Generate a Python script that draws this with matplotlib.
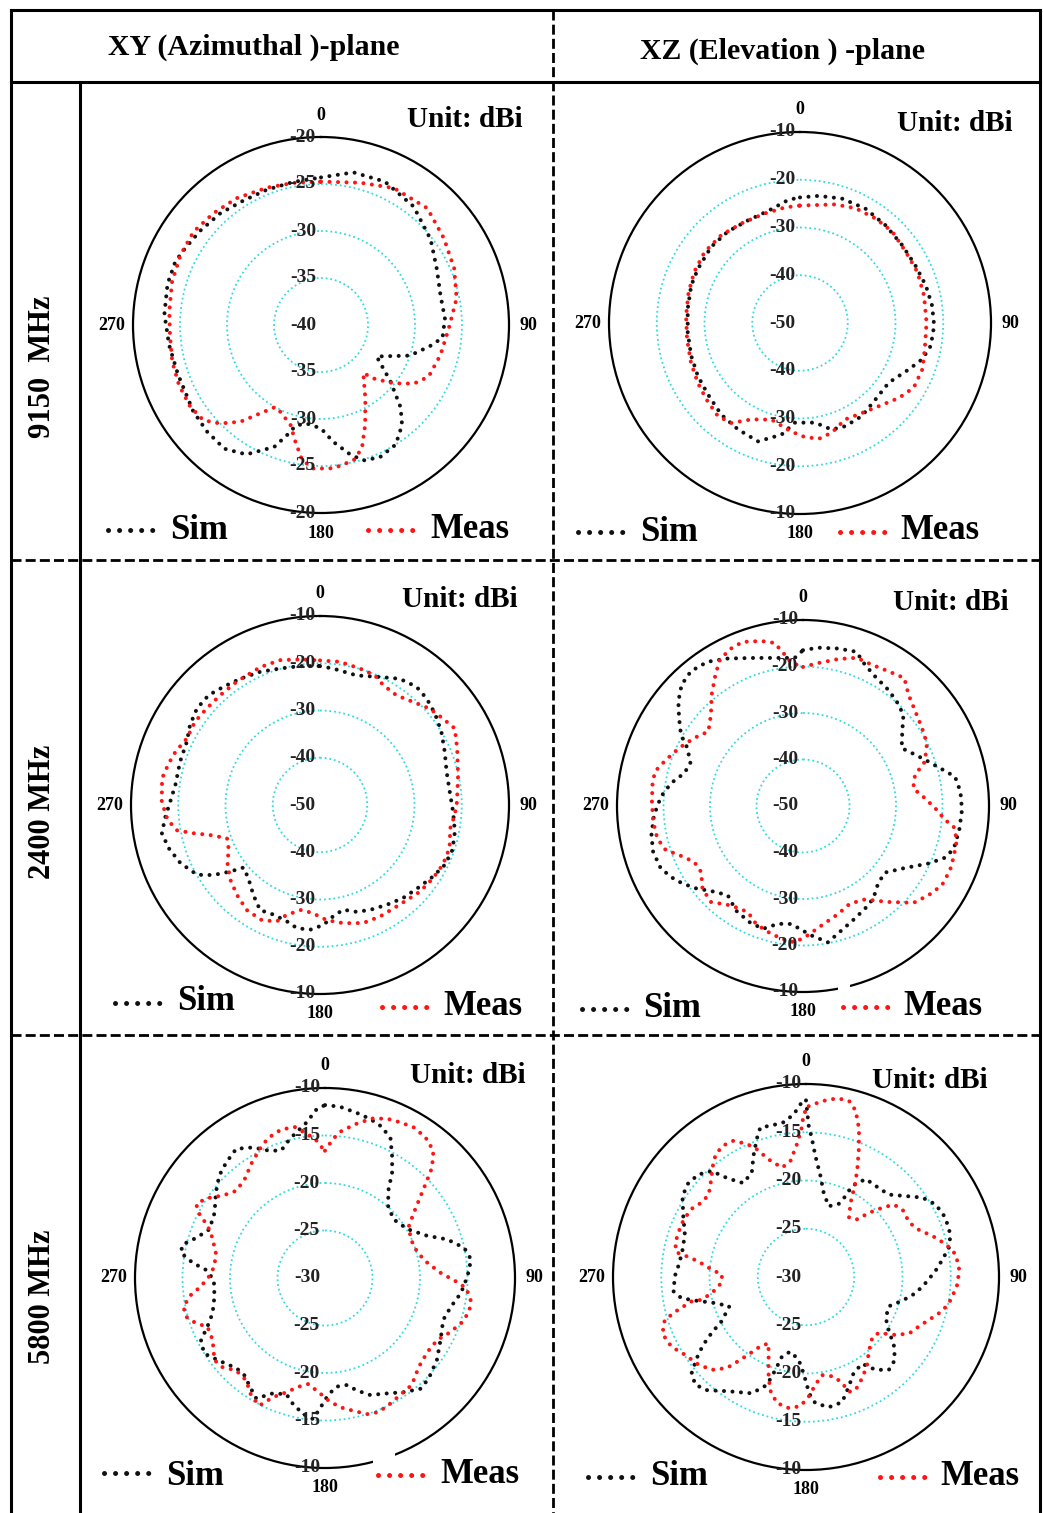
""" Radiation patterns, simulated vs measured (dBi): three bands, two planes.
"""

import numpy as np
import matplotlib
matplotlib.use('Agg')
import matplotlib.pyplot as plt
from matplotlib.lines import Line2D
from matplotlib.patches import Rectangle
from matplotlib.transforms import offset_copy


W, H = 1043, 1513
SIM_COLOR = '#111111'
MEAS_COLOR = '#ff1414'
RING_COLOR = '#30dae4'

plt.rcParams['font.family'] = ['Liberation Serif', 'DejaVu Serif']
plt.rcParams['font.weight'] = 'bold'

# ---- 9150 MHz, XY plane ----
xy_9150_sim_deg = [0, 12, 24, 38, 52, 64, 76, 87, 96, 101,
                   109, 119.5, 129, 136, 141, 148, 156, 162.5, 167, 174,
                   180, 188, 194, 197, 201, 210, 218, 227, 236, 251,
                   262.5, 274, 285, 293.5, 299.5, 308, 318, 328, 338, 349]
xy_9150_sim_db = [-24.3, -23.4, -23.3, -24.0, -25.2, -26.3, -26.9, -26.8, -27.0, -28.2,
                  -30.0, -33.2, -30.5, -27.8, -26.3, -25.0, -24.6, -24.9, -25.8, -27.5,
                  -29.0, -29.4, -29.0, -27.8, -26.1, -24.1, -23.3, -23.4, -23.6, -23.9,
                  -23.7, -23.3, -23.1, -23.1, -23.4, -23.7, -24.0, -24.4, -24.5, -24.5]
xy_9150_meas_deg = [0, 15.4, 28, 42.3, 54.8, 66.9, 78.9, 91.5, 104.1, 115.6,
                    122.2, 128.8, 135.4, 138.6, 148.8, 156.1, 161.6, 166.4, 175, 182.9,
                    188, 192.4, 197, 205.1, 209.2, 214.5, 219.8, 225.7, 231, 238,
                    247.1, 256.2, 266.2, 275, 286.2, 296.5, 306.2, 316.1, 326.4, 338.5,
                    349.1]
xy_9150_meas_db = [-24.75, -24.3, -23.5, -23.2, -24.0, -24.6, -25.3, -26.4, -26.9, -27.3,
                   -28.3, -30.1, -32.0, -33.2, -30.9, -28.4, -26.2, -25.2, -24.7, -24.7,
                   -25.5, -27.3, -28.9, -29.8, -30.0, -28.6, -26.6, -25.0, -23.9, -23.6,
                   -23.6, -23.7, -23.9, -23.8, -23.5, -23.3, -23.2, -23.5, -23.8, -24.3,
                   -24.6]

# ---- 9150 MHz, XZ plane ----
xz_9150_sim_deg = [0, 8.3, 18.6, 29.7, 41.1, 52.7, 63.5, 73.4, 82.5, 91.1,
                   99.9, 106.5, 113, 123.9, 135.4, 146.4, 156.3, 163.4, 171.4, 182.9,
                   189.4, 199.5, 210.2, 220.7, 232.2, 242.6, 253.2, 265.2, 277.1, 289,
                   298, 310.6, 321.7, 333.2, 344.1, 354.6]
xz_9150_sim_db = [-23.7, -23.1, -22.5, -22.4, -22.8, -23.1, -23.0, -22.5, -22.1, -21.9,
                  -22.2, -23.3, -25.2, -27.6, -27.5, -26.6, -26.4, -26.7, -28.9, -29.1,
                  -26.3, -23.7, -24.2, -24.7, -25.6, -25.9, -26.2, -26.4, -26.3, -25.9,
                  -25.8, -25.5, -25.6, -25.9, -25.6, -24.1]
xz_9150_meas_deg = [0, 16.5, 25.8, 35.8, 45.3, 56, 66.5, 77.5, 89.7, 101.8,
                    110.7, 119.6, 127.1, 136.5, 145.4, 154.9, 163.8, 171, 179.2, 186.3,
                    196.4, 206.7, 214.5, 221.4, 230.8, 239.7, 250, 261.9, 273.7, 285.4,
                    295.8, 306.6, 318.1, 329.5, 342.2, 352.5]
xz_9150_meas_db = [-25.4, -24.1, -23.3, -23.0, -22.8, -23.3, -23.2, -23.4, -23.5, -23.3,
                   -22.6, -22.6, -24.0, -26.0, -27.1, -27.7, -26.1, -25.4, -26.3, -27.5,
                   -28.9, -27.4, -24.6, -24.0, -24.7, -25.2, -25.7, -26.1, -26.1, -25.8,
                   -25.4, -25.1, -25.3, -25.8, -25.9, -25.6]

# ---- 2400 MHz, XY plane ----
xy_2400_sim_deg = [0, 5.6, 15.8, 25, 32.3, 39.2, 45, 51.4, 58.9, 66.9,
                   75.3, 84.1, 92.9, 101.2, 108.7, 115.6, 122.3, 129.2, 138.2, 146.3,
                   154.5, 161.1, 167.5, 173.2, 178.4, 184.6, 190.7, 195.9, 203, 209.7,
                   216.5, 224.3, 230.7, 233.5, 236.7, 240.4, 247.4, 254.1, 259.9, 265.7,
                   271.3, 277.9, 287.2, 295.4, 301.6, 308.1, 314.6, 320.8, 327.7, 335.8,
                   343.7, 351.8]
xy_2400_sim_db = [-20.6, -21.0, -21.5, -20.1, -18.4, -17.7, -18.1, -18.9, -20.0, -21.3,
                  -22.3, -22.4, -21.8, -20.9, -20.4, -20.7, -21.7, -22.7, -23.6, -24.6,
                  -25.4, -26.1, -27.3, -26.3, -24.6, -23.5, -23.5, -24.4, -24.8, -24.4,
                  -26.3, -28.3, -29.1, -26.3, -23.0, -20.1, -18.0, -16.7, -16.0, -17.2,
                  -18.3, -19.1, -19.0, -18.8, -17.7, -16.9, -16.9, -17.7, -18.4, -19.1,
                  -19.9, -20.3]
xy_2400_meas_deg = [0, 7.9, 16.3, 22.9, 27.8, 34.9, 42.1, 48.7, 54.9, 60.4,
                    67.6, 77.8, 88.6, 94.2, 100.1, 108.4, 115.9, 122.9, 130.9, 141.3,
                    151.7, 159.9, 168.8, 176.7, 183.5, 189.9, 196.9, 200.4, 206.9, 214.9,
                    222.8, 230.2, 237.1, 244.7, 250.3, 254.7, 257.4, 259.9, 264.4, 271.2,
                    279.6, 285.4, 290.2, 296.6, 303.7, 310.5, 317.7, 326, 336.6, 344.6,
                    352.2]
xy_2400_meas_db = [-19.4, -19.4, -19.9, -20.2, -21.3, -21.7, -20.6, -19.1, -18.2, -17.2,
                   -18.6, -20.1, -21.0, -21.4, -22.0, -21.1, -21.1, -21.5, -22.0, -23.0,
                   -23.2, -23.4, -24.5, -25.6, -27.0, -27.5, -25.7, -23.7, -22.7, -22.9,
                   -24.1, -25.3, -26.7, -28.6, -29.1, -25.9, -22.6, -19.3, -17.6, -16.5,
                   -16.1, -16.8, -17.4, -18.5, -18.2, -18.5, -18.6, -18.5, -18.2, -18.2,
                   -18.9]

# ---- 2400 MHz, XZ plane ----
xz_2400_sim_deg = [0, 5.4, 12.6, 19.1, 23.6, 29, 36.2, 41.8, 47.7, 53.1,
                   59.6, 64.8, 69.3, 74.6, 79.1, 84.8, 91.4, 98.8, 105.8, 110,
                   114.6, 121.2, 129.1, 135.9, 142.8, 148.9, 156.3, 162.8, 169.6, 176.3,
                   185.7, 192, 198.1, 204.8, 212.7, 220.1, 225.9, 233, 239.7, 246.2,
                   253, 259.1, 266.5, 273.8, 279.8, 285.4, 290.8, 296.6, 300.3, 305.4,
                   310, 315, 320.3, 326.5, 333, 341.9, 350.4, 356.8]
xz_2400_sim_db = [-16.5, -15.8, -15.3, -14.9, -16.8, -18.1, -19.0, -19.8, -20.8, -23.3,
                  -25.4, -23.7, -21.9, -19.4, -16.7, -16.0, -15.8, -16.0, -16.3, -17.5,
                  -20.3, -24.3, -27.3, -26.8, -25.0, -24.2, -23.2, -22.0, -20.2, -22.1,
                  -24.5, -24.1, -22.2, -22.5, -23.3, -24.9, -23.5, -20.7, -18.3, -16.6,
                  -16.3, -16.8, -17.9, -19.4, -21.2, -23.5, -24.1, -22.2, -19.6, -17.3,
                  -15.0, -13.1, -12.3, -12.8, -14.4, -16.5, -17.7, -18.1]
xz_2400_meas_deg = [0, 6, 13.5, 19.9, 25.9, 32.3, 38.4, 43.4, 49.8, 56.7,
                    63.1, 70, 74.5, 80.9, 86.4, 91.7, 95.6, 97.8, 102.5, 108.7,
                    113.6, 119.7, 125.5, 131.2, 138.4, 146.5, 154.4, 161.9, 171.2, 177.8,
                    183.5, 189.3, 195.6, 201.7, 207.5, 215.9, 223.8, 230.5, 237.1, 242.8,
                    248.3, 252.2, 257.4, 264, 271.6, 278, 283.1, 288.6, 295.1, 302,
                    308.2, 314.8, 320.7, 325.9, 330, 334.8, 339.8, 345.8, 350.1, 353.1,
                    355.3]
xz_2400_meas_db = [-20.1, -19.1, -17.5, -16.1, -16.2, -15.7, -14.9, -17.0, -18.4, -19.4,
                   -20.1, -22.1, -25.0, -26.0, -23.7, -21.2, -19.3, -17.3, -16.1, -15.8,
                   -15.5, -15.6, -16.9, -18.4, -22.4, -25.9, -26.7, -25.6, -24.0, -22.2,
                   -20.6, -21.1, -21.9, -22.7, -24.3, -23.6, -21.4, -22.0, -23.9, -23.7,
                   -21.4, -19.0, -17.9, -17.6, -17.5, -17.3, -17.3, -18.9, -20.6, -22.4,
                   -24.1, -22.1, -19.0, -16.3, -14.0, -12.8, -12.4, -13.4, -14.4, -17.2,
                   -19.1]

# ---- 5800 MHz, XY plane ----
xy_5800_sim_deg = [0, 5, 10.9, 15.9, 20.7, 25.2, 28.7, 32.4, 35.6, 41,
                   49.5, 59.4, 67.4, 72.5, 77.8, 82.8, 89.3, 96.3, 102.8, 109.5,
                   118.2, 126.2, 134.1, 139.2, 145.4, 151.7, 158.9, 164.2, 168.4, 173.9,
                   178.4, 181.9, 184.8, 189.1, 194.2, 198.3, 204.2, 209.7, 214.7, 219.6,
                   224.5, 229.2, 234, 238, 243.4, 247.5, 252.6, 260.5, 269.1, 274,
                   276.5, 279.9, 283.2, 287.3, 292.8, 300.6, 308.1, 314.1, 319.5, 325.5,
                   331.1, 336.5, 341.1, 345.8, 353.3, 357.2]
xy_5800_sim_db = [-11.8, -11.9, -12.3, -12.6, -13.0, -13.8, -15.3, -16.8, -18.5, -19.9,
                  -20.5, -19.9, -18.4, -16.5, -15.0, -14.5, -15.0, -15.6, -16.4, -16.8,
                  -16.2, -15.4, -14.8, -14.6, -15.4, -16.2, -16.8, -17.7, -18.5, -18.5,
                  -17.7, -16.4, -15.1, -15.5, -16.3, -17.1, -16.7, -15.4, -16.1, -16.7,
                  -16.7, -16.2, -15.6, -15.0, -15.4, -16.6, -17.6, -18.2, -18.3, -17.4,
                  -16.0, -14.6, -14.6, -15.8, -16.8, -16.5, -15.4, -14.5, -14.0, -13.5,
                  -14.3, -15.4, -15.8, -14.9, -13.5, -12.2]
xy_5800_meas_deg = [0, 3.4, 6.5, 11.7, 16.4, 21.3, 25.8, 30.5, 35.5, 40.4,
                    44.1, 46.4, 49.3, 53.7, 58.2, 65.7, 74.7, 81.6, 87.5, 91.5,
                    94.1, 98.5, 103.1, 108.4, 113.8, 118.9, 125.8, 133.4, 140.9, 146.3,
                    152.5, 158.2, 162.8, 167.9, 173.3, 178.4, 183.4, 189, 193.8, 198.7,
                    203.6, 207.2, 212.2, 217.6, 223.9, 229, 233.4, 241.2, 247.5, 250.7,
                    254.5, 258.6, 262.9, 266.1, 270.8, 276.1, 283, 289.7, 293.9, 296.9,
                    299.7, 303.7, 309, 314.5, 320.9, 327.1, 333.1, 337.8, 343.6, 348.7,
                    352.7, 355.9, 358.1]
xy_5800_meas_db = [-16.6, -15.3, -14.4, -13.4, -12.5, -12.0, -11.8, -11.6, -11.8, -12.4,
                   -13.8, -15.2, -16.7, -18.4, -19.6, -20.1, -19.9, -19.1, -17.8, -16.2,
                   -15.1, -14.5, -14.4, -14.9, -15.7, -16.5, -16.7, -16.4, -15.5, -15.4,
                   -15.1, -14.8, -15.0, -15.7, -16.3, -17.1, -18.0, -18.7, -18.2, -17.3,
                   -16.3, -14.9, -15.4, -16.4, -16.5, -15.7, -15.5, -16.5, -16.6, -15.6,
                   -14.8, -14.8, -15.8, -16.9, -17.8, -18.3, -18.2, -17.4, -16.5, -15.2,
                   -14.4, -14.9, -16.2, -16.9, -16.6, -15.7, -14.8, -14.1, -13.7, -13.8,
                   -14.7, -15.3, -16.1]

# ---- 5800 MHz, XZ plane ----
xz_5800_sim_deg = [0, 1, 2.5, 4.4, 8.1, 11.9, 17.8, 24.1, 26, 26.9,
                   31.4, 38.6, 45.1, 50.9, 55.7, 60.8, 66.9, 73.7, 78.5, 83,
                   87.5, 92.9, 98.3, 103.7, 109.5, 117.3, 123.3, 127.7, 133, 138.3,
                   143.2, 147.1, 153.6, 158.7, 163.9, 170.1, 175.8, 178.4, 181.4, 185.1,
                   191.9, 196.8, 198.3, 199.9, 205, 214.1, 221.3, 225.8, 229.9, 233.4,
                   236.5, 239.5, 242.2, 249.1, 254, 258.1, 260.4, 263.8, 270.3, 276.3,
                   282.5, 289.3, 296.4, 303.2, 308.5, 313.6, 318.3, 321.7, 326.3, 332.6,
                   336.6, 340.4, 343, 347.3, 351.7, 355.7, 358.1]
xz_5800_sim_db = [-11.7, -14.3, -15.7, -17.4, -19.4, -21.1, -22.3, -21.7, -20.7, -19.4,
                  -18.1, -18.1, -17.9, -16.7, -15.4, -14.6, -14.3, -14.4, -14.9, -15.8,
                  -16.6, -17.6, -18.5, -19.7, -20.9, -20.7, -19.7, -18.5, -17.4, -17.1,
                  -18.0, -19.3, -18.9, -17.8, -16.5, -16.3, -16.9, -17.9, -20.0, -21.4,
                  -22.1, -21.4, -19.8, -18.1, -16.7, -15.7, -14.4, -14.0, -14.5, -15.9,
                  -17.2, -18.7, -20.1, -21.5, -20.2, -18.2, -16.9, -16.2, -16.4, -16.8,
                  -16.9, -16.7, -15.8, -14.7, -14.4, -14.6, -15.3, -17.0, -18.3, -17.8,
                  -16.3, -14.8, -13.8, -13.9, -13.8, -13.1, -12.1]
xz_5800_meas_deg = [0.9, 5.2, 9.9, 13.7, 16.6, 19.7, 22.5, 25.4, 28.2, 30.9,
                    35.9, 41.7, 44.4, 47.8, 50.5, 55.2, 62.3, 67.5, 72.1, 76.9,
                    81.5, 87.3, 92.9, 98.9, 103.8, 107.6, 113.4, 118.6, 122.8, 127.6,
                    132.3, 139.9, 145.2, 151, 156.4, 159.5, 161.2, 164.4, 170.7, 175,
                    178.7, 182.5, 187.5, 193, 197.6, 201.3, 205.2, 209.5, 213.4, 216.2,
                    218.5, 221, 225.4, 231.1, 237.2, 242.6, 248.4, 253.1, 255.6, 258,
                    257.7, 260.3, 265.9, 271.6, 274.5, 278.3, 279.9, 280.8, 284.7, 289.8,
                    295.1, 300.8, 305.4, 310.2, 315.3, 319.9, 323.7, 327.8, 331.9, 336,
                    338.9, 342.3, 347.6, 352.3, 356.1, 358.2, 359.2]
xz_5800_meas_db = [-12.3, -11.7, -11.2, -11.2, -12.0, -13.7, -15.7, -17.6, -19.3, -21.0,
                   -22.4, -22.0, -20.7, -19.3, -18.2, -17.8, -17.9, -17.3, -16.2, -15.1,
                   -14.3, -14.1, -14.3, -14.8, -15.4, -16.2, -17.2, -17.8, -18.9, -20.5,
                   -20.7, -19.9, -18.9, -18.0, -17.2, -17.3, -18.4, -19.3, -19.7, -18.8,
                   -17.6, -16.6, -16.3, -16.6, -17.7, -19.3, -20.9, -22.1, -21.4, -20.2,
                   -19.0, -17.5, -16.3, -15.6, -15.1, -14.3, -14.0, -14.7, -16.3, -17.9,
                   -18.9, -20.1, -21.2, -21.3, -20.2, -18.7, -17.4, -16.3, -16.0, -16.0,
                   -16.0, -16.2, -16.7, -16.8, -16.0, -15.0, -14.2, -13.9, -14.0, -14.9,
                   -15.8, -17.2, -18.4, -17.9, -16.2, -14.7, -13.1]

col_titles = ['XY (Azimuthal )-plane', 'XZ (Elevation ) -plane']
row_titles = ['9150  MHz', '2400 MHz', '5800 MHz']
legend_labels = ['Sim', 'Meas']
unit_label = 'Unit: dBi'


def fx(x):
    return x / W


def fy(y):
    return 1 - y / H


def fig_line(fig, xs, ys, **kw):
    fig.add_artist(Line2D([fx(v) for v in xs], [fy(v) for v in ys],
                          transform=fig.transFigure, **kw))


def draw_panel(fig, geo, rng, sim, meas):
    """ One polar pattern cell. geo = (cx, cy, radius) in pixels,
        rng = (centre dB, outer dB, ring step). """
    cx, cy, rad = geo
    rmin, rmax, step = rng
    ax = fig.add_axes([fx(cx - rad), fy(cy + rad), 2 * rad / W, 2 * rad / H],
                      projection='polar')
    ax.set_theta_zero_location('N')
    ax.set_theta_direction(-1)
    ax.set_ylim(rmin, rmax)

    rings = list(range(rmin + step, rmax, step))
    ax.set_yticks(rings)
    ax.set_yticklabels([])
    ax.tick_params(axis='y', length=0)
    ax.yaxis.grid(True, color=RING_COLOR, linestyle=(0, (1, 1.6)), linewidth=1.3)
    ax.xaxis.grid(False)
    ax.set_xticks(np.deg2rad([0, 90, 180, 270]))
    ax.set_xticklabels([])
    ax.set_xticks(np.deg2rad([45, 135, 225, 315]), minor=True)
    ax.tick_params(axis='x', which='major', direction='inout', length=9,
                   width=1.5, colors='black')
    ax.tick_params(axis='x', which='minor', direction='in', length=5, width=1.3)
    ax.spines['polar'].set_linewidth(1.6)

    for (deg, db), color in ((sim, SIM_COLOR), (meas, MEAS_COLOR)):
        theta = np.deg2rad(np.r_[deg, deg[0]])
        ax.plot(theta, np.r_[db, db[0]], color=color, linewidth=2.9,
                linestyle=(0, (0.01, 2.1)), dash_capstyle='round')

    # radial values written up and down the vertical axis
    lab_tr = offset_copy(ax.transData, fig=fig, x=-5, y=0, units='dots')
    ax.text(0, rmin, str(rmin), transform=lab_tr, ha='right', va='center',
            fontsize=14, color='#222222')
    for r in rings + [rmax]:
        for th in (0, np.pi):
            ax.text(th, r, str(r), transform=lab_tr, ha='right', va='center',
                    fontsize=14, color='#222222')

    for deg, dx, dy in ((0, 0, 22), (90, 19, 0), (180, 0, -20), (270, -21, 0)):
        tr = offset_copy(ax.transData, fig=fig, x=dx, y=dy, units='dots')
        ax.text(np.deg2rad(deg), rmax, str(deg), transform=tr, ha='center',
                va='center', fontsize=13)
    return ax


def draw_legend(fig, sim_pos, meas_pos):
    """ pos = (dots x, dots y, text x, text baseline) in pixels """
    for (x0, y0, tx, ty), color, label in ((sim_pos, SIM_COLOR, legend_labels[0]),
                                           (meas_pos, MEAS_COLOR, legend_labels[1])):
        fig_line(fig, [x0, x0 + 45], [y0, y0], color=color, linewidth=3.6,
                 linestyle=(0, (0.01, 2.2)), dash_capstyle='round')
        fig.text(fx(tx), fy(ty), label, fontsize=25, ha='left', va='baseline')


def main():
    fig = plt.figure(figsize=(W / 100, H / 100), dpi=100)

    panels = [
        ((321, 325, 188), (-40, -20, 5), (xy_9150_sim_deg, xy_9150_sim_db),
         (xy_9150_meas_deg, xy_9150_meas_db), (407, 127),
         (108, 530, 170, 539), (368, 530, 430, 538)),
        ((800, 323, 191), (-50, -10, 10), (xz_9150_sim_deg, xz_9150_sim_db),
         (xz_9150_meas_deg, xz_9150_meas_db), (897, 131),
         (578, 532, 640, 541), (840, 532, 900, 539)),
        ((320, 805, 189), (-50, -10, 10), (xy_2400_sim_deg, xy_2400_sim_db),
         (xy_2400_meas_deg, xy_2400_meas_db), (402, 607),
         (115, 1003, 177, 1010), (382, 1007, 443, 1015)),
        ((803, 806, 186), (-50, -10, 10), (xz_2400_sim_deg, xz_2400_sim_db),
         (xz_2400_meas_deg, xz_2400_meas_db), (893, 610),
         (582, 1009, 643, 1017), (843, 1007, 903, 1015)),
        ((325, 1278, 190), (-30, -10, 5), (xy_5800_sim_deg, xy_5800_sim_db),
         (xy_5800_meas_deg, xy_5800_meas_db), (410, 1083),
         (104, 1473, 166, 1485), (378, 1475, 440, 1483)),
        ((806, 1277, 193), (-30, -10, 5), (xz_5800_sim_deg, xz_5800_sim_db),
         (xz_5800_meas_deg, xz_5800_meas_db), (872, 1088),
         (588, 1477, 650, 1485), (880, 1477, 940, 1485)),
    ]
    for geo, rng, sim, meas, unit_pos, sim_leg, meas_leg in panels:
        draw_panel(fig, geo, rng, sim, meas)
        fig.text(fx(unit_pos[0]), fy(unit_pos[1]), unit_label, fontsize=21,
                 ha='left', va='baseline')
        draw_legend(fig, sim_leg, meas_leg)

    # white strip where the legend box cuts the outer circle
    for x0, y0, w, h in ((373, 1446, 22, 22), (838, 976, 12, 16)):
        fig.add_artist(Rectangle((fx(x0), fy(y0 + h)), w / W, h / H,
                                 transform=fig.transFigure, facecolor='white',
                                 edgecolor='none', zorder=5))

    # table frame
    solid = dict(color='black', linewidth=2.2, solid_capstyle='projecting')
    dashed = dict(color='black', linewidth=2.0, linestyle=(0, (3.6, 1.5)))
    fig_line(fig, [11, 1040], [10, 10], **solid)
    fig_line(fig, [11, 1040], [82, 82], **solid)
    fig_line(fig, [11, 11], [10, 1513], **solid)
    fig_line(fig, [1040, 1040], [10, 1513], **solid)
    fig_line(fig, [80, 80], [82, 1513], **solid)
    fig_line(fig, [553, 553], [10, 1513], **dashed)
    fig_line(fig, [11, 1040], [560, 560], **dashed)
    fig_line(fig, [11, 1040], [1035, 1035], **dashed)

    fig.text(fx(108), fy(55), col_titles[0], fontsize=21.5, ha='left', va='baseline')
    fig.text(fx(640), fy(59), col_titles[1], fontsize=21.5, ha='left', va='baseline')
    for label, yc in zip(row_titles, (367, 812, 1297)):
        fig.text(fx(43), fy(yc), label, fontsize=22, rotation=90,
                 ha='center', va='center')

    fig.savefig('out.png', dpi=100)


if __name__ == '__main__':
    main()
